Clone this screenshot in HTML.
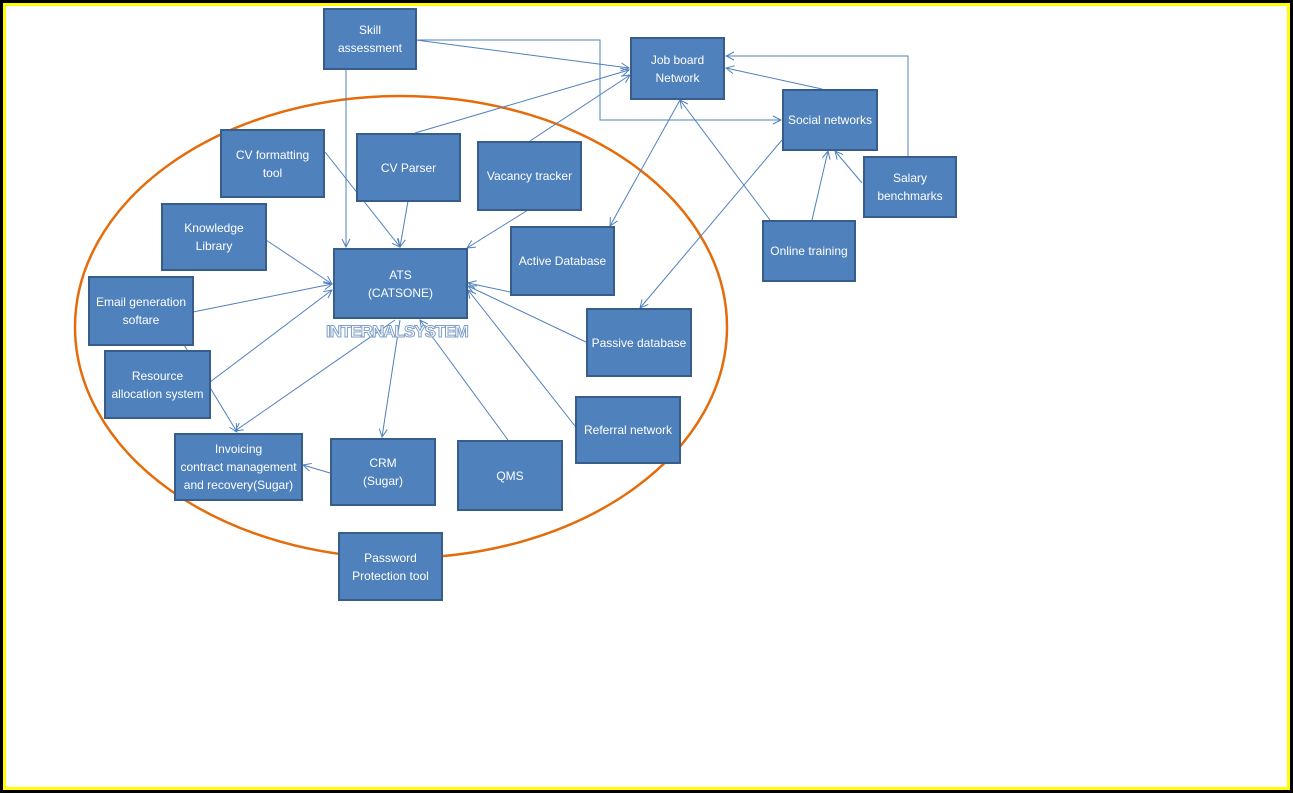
<!DOCTYPE html>
<html><head><style>
body{margin:0;width:1293px;height:793px;overflow:hidden;background:#000;font-family:"Liberation Sans",sans-serif}
#f{position:absolute;left:3px;top:3px;width:1287px;height:787px;background:#ff0}
#w{position:absolute;left:6px;top:6px;width:1281px;height:781px;background:#fff}
.b{position:absolute;background:#4f81bd;border:2px solid #385d8a;color:#fff;font-size:12px;display:flex;align-items:center;justify-content:center;text-align:center;line-height:18px;box-sizing:border-box}
</style></head><body>
<div id="f"></div><div id="w"></div>
<svg width="1293" height="793" style="position:absolute;left:0;top:0">
<defs><marker id="a" markerWidth="10" markerHeight="10" refX="9" refY="5" orient="auto" markerUnits="userSpaceOnUse"><path d="M1,1 L9,5 L1,9" fill="none" stroke="#4f81bd" stroke-width="1"/></marker></defs>
<ellipse cx="401" cy="327" rx="326" ry="231" fill="none" stroke="#e46c0a" stroke-width="2.5"/>
<g stroke="#4f81bd" stroke-width="1" fill="none" marker-end="url(#a)">
<line x1="346" y1="69" x2="346" y2="247"/>
<line x1="416" y1="40" x2="629" y2="68"/>
<polyline points="416,40 600,40 600,120 781,120"/>
<line x1="415" y1="133" x2="629" y2="70"/>
<line x1="530" y1="141" x2="630" y2="75"/>
<line x1="325" y1="152" x2="400" y2="247"/>
<line x1="408" y1="201" x2="400" y2="247"/>
<line x1="266" y1="240" x2="332" y2="284"/>
<line x1="193" y1="312" x2="332" y2="284"/>
<line x1="210" y1="382" x2="332" y2="290"/>
<line x1="528" y1="210" x2="467" y2="248"/>
<line x1="510" y1="292" x2="468" y2="283"/>
<line x1="586" y1="342" x2="468" y2="286"/>
<line x1="575" y1="426" x2="468" y2="290"/>
<line x1="508" y1="440" x2="420" y2="320"/>
<line x1="400" y1="320" x2="382" y2="437"/>
<line x1="395" y1="320" x2="235" y2="431"/>
<line x1="330" y1="473" x2="303" y2="465"/>
<line x1="175" y1="330" x2="237" y2="432"/>
<line x1="680" y1="100" x2="610" y2="226"/>
<line x1="782" y1="140" x2="640" y2="308"/>
<line x1="812" y1="220" x2="828" y2="151"/>
<line x1="770" y1="220" x2="680" y2="100"/>
<line x1="862" y1="183" x2="835" y2="151"/>
<line x1="822" y1="89" x2="726" y2="68"/>
<polyline points="908,156 908,56 726,56"/>
</g>
</svg>
<div class="b" style="left:323px;top:8px;width:94px;height:62px">Skill<br>assessment</div>
<div class="b" style="left:630px;top:37px;width:95px;height:63px">Job board<br>Network</div>
<div class="b" style="left:782px;top:89px;width:96px;height:62px">Social networks</div>
<div class="b" style="left:863px;top:156px;width:94px;height:62px">Salary<br>benchmarks</div>
<div class="b" style="left:762px;top:220px;width:94px;height:62px">Online training</div>
<div class="b" style="left:220px;top:129px;width:105px;height:69px">CV formatting<br>tool</div>
<div class="b" style="left:356px;top:133px;width:105px;height:69px">CV Parser</div>
<div class="b" style="left:477px;top:141px;width:105px;height:70px">Vacancy tracker</div>
<div class="b" style="left:161px;top:203px;width:106px;height:68px">Knowledge<br>Library</div>
<div class="b" style="left:333px;top:248px;width:135px;height:71px">ATS<br>(CATSONE)</div>
<div class="b" style="left:510px;top:226px;width:105px;height:70px">Active Database</div>
<div class="b" style="left:88px;top:276px;width:106px;height:70px">Email generation<br>softare</div>
<div class="b" style="left:586px;top:308px;width:106px;height:69px">Passive database</div>
<div class="b" style="left:104px;top:350px;width:107px;height:69px">Resource<br>allocation system</div>
<div class="b" style="left:575px;top:396px;width:106px;height:68px">Referral network</div>
<div class="b" style="left:174px;top:433px;width:129px;height:68px">Invoicing<br>contract management<br>and recovery(Sugar)</div>
<div class="b" style="left:330px;top:438px;width:106px;height:68px">CRM<br>(Sugar)</div>
<div class="b" style="left:457px;top:440px;width:106px;height:71px">QMS</div>
<div class="b" style="left:338px;top:532px;width:105px;height:69px">Password<br>Protection tool</div>
<div style="position:absolute;left:326px;top:322px;font-size:17px;font-weight:bold;color:#fff;-webkit-text-stroke:1px #7f9fc8;letter-spacing:-1px">INTERNALSYSTEM</div>
</body></html>
